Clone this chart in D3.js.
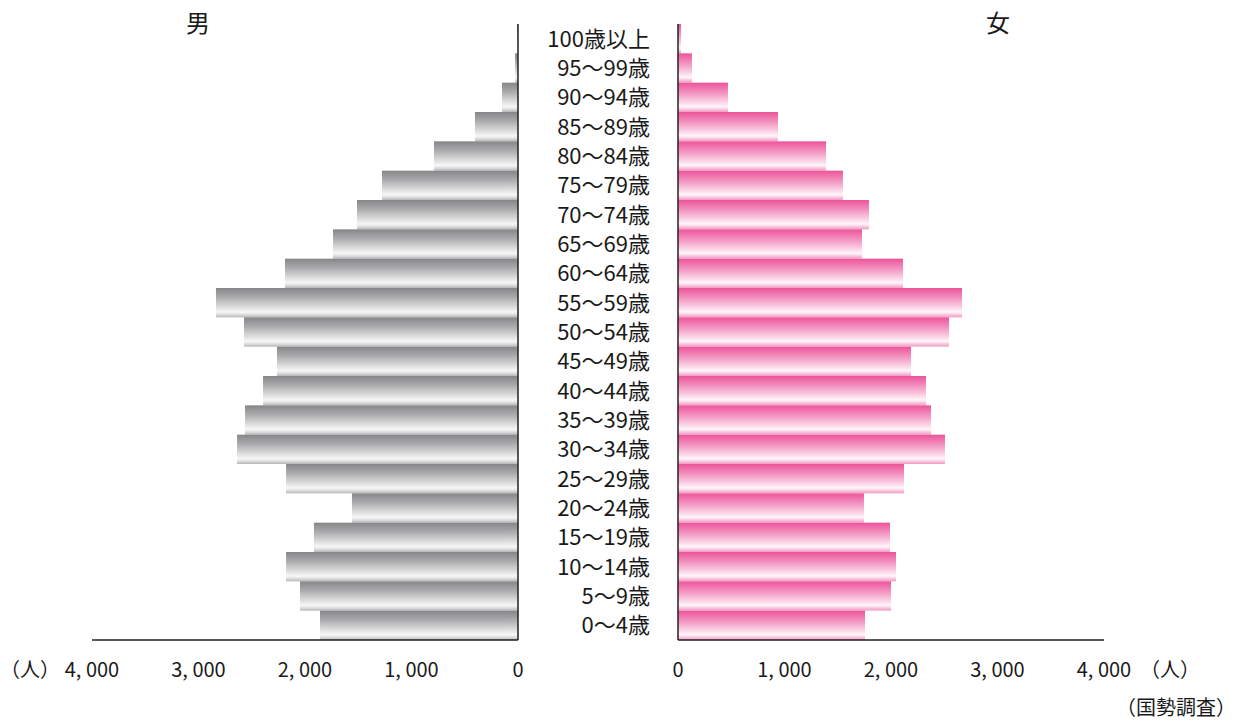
<!DOCTYPE html>
<html lang="ja">
<head>
    <meta charset="UTF-8">
    <title>人口ピラミッド</title>
    <style>
        body { margin: 0; background: #fff; }
        svg { display: block; }
        text { font-family: "Noto Sans CJK JP", "Noto Sans", sans-serif; fill: #1a1a1a; }
    </style>
</head>
<body>
    <svg id="chart" width="1244" height="722"></svg>
    <script src="https://d3js.org/d3.v7.min.js"></script>
    <script>
        // age groups, top to bottom
        const ageGroups = ["100歳以上", "95～99歳", "90～94歳", "85～89歳", "80～84歳", "75～79歳",
            "70～74歳", "65～69歳", "60～64歳", "55～59歳", "50～54歳", "45～49歳", "40～44歳",
            "35～39歳", "30～34歳", "25～29歳", "20～24歳", "15～19歳", "10～14歳", "5～9歳", "0～4歳"];
        const male = [8, 28, 150, 404, 789, 1277, 1512, 1737, 2188, 2836, 2573, 2263, 2394,
            2563, 2638, 2178, 1559, 1916, 2178, 2047, 1859];
        const female = [28, 131, 469, 939, 1390, 1549, 1793, 1728, 2113, 2667, 2545, 2188, 2329,
            2376, 2507, 2122, 1746, 1991, 2047, 2000, 1756];
        const ticks = [0, 1000, 2000, 3000, 4000];

        const svg = d3.select("#chart");
        const plotTop = 24, plotBottom = 640;

        const y = d3.scaleBand().domain(ageGroups).range([plotTop, plotBottom]).padding(0);
        const xL = d3.scaleLinear().domain([0, 4000]).range([518, 92]);
        const xR = d3.scaleLinear().domain([0, 4000]).range([678, 1104]);

        // gradients
        const defs = svg.append("defs");
        function grad(id, stops) {
            const g = defs.append("linearGradient").attr("id", id)
                .attr("x1", 0).attr("y1", 0).attr("x2", 0).attr("y2", 1);
            stops.forEach(s => g.append("stop").attr("offset", s[0]).attr("stop-color", s[1]));
        }
        grad("gGray", [[0, "#868689"], [0.3, "#a9a9ab"], [0.6, "#d6d6d7"], [0.82, "#f7f7f7"], [0.92, "#d9d9da"], [1, "#b4b4b6"]]);
        grad("gPink", [[0, "#ec5599"], [0.3, "#f28abb"], [0.6, "#f9c6de"], [0.82, "#fff6fa"], [0.92, "#f8c0da"], [1, "#f39cc5"]]);

        svg.selectAll(".m")
            .data(male)
            .enter()
            .append("rect")
            .attr("class", "m")
            .attr("x", d => xL(d))
            .attr("y", (d, i) => y(ageGroups[i]))
            .attr("width", d => xL(0) - xL(d))
            .attr("height", y.bandwidth())
            .attr("fill", "url(#gGray)");

        svg.selectAll(".f")
            .data(female)
            .enter()
            .append("rect")
            .attr("class", "f")
            .attr("x", xR(0))
            .attr("y", (d, i) => y(ageGroups[i]))
            .attr("width", d => xR(d) - xR(0))
            .attr("height", y.bandwidth())
            .attr("fill", "url(#gPink)");

        // axis lines
        svg.append("line").attr("x1", 92).attr("x2", 518).attr("y1", plotBottom).attr("y2", plotBottom)
            .attr("stroke", "#222").attr("stroke-width", 1.5);
        svg.append("line").attr("x1", 678).attr("x2", 1104).attr("y1", plotBottom).attr("y2", plotBottom)
            .attr("stroke", "#222").attr("stroke-width", 1.5);
        svg.append("line").attr("x1", 518).attr("x2", 518).attr("y1", plotTop).attr("y2", plotBottom)
            .attr("stroke", "#222").attr("stroke-width", 1.5);
        svg.append("line").attr("x1", 678).attr("x2", 678).attr("y1", plotTop).attr("y2", plotBottom)
            .attr("stroke", "#222").attr("stroke-width", 1.5);

        // tick labels
        const fmt = d => d3.format(",")(d).replace(",", ", ");
        svg.selectAll(".tl").data(ticks).enter().append("text")
            .attr("x", d => xL(d)).attr("y", 677)
            .attr("text-anchor", "middle").attr("font-size", 20)
            .text(fmt);
        svg.selectAll(".tr").data(ticks).enter().append("text")
            .attr("x", d => xR(d)).attr("y", 677)
            .attr("text-anchor", "middle").attr("font-size", 20)
            .text(fmt);

        // age labels
        svg.selectAll(".age").data(ageGroups).enter().append("text")
            .attr("x", 650).attr("y", d => y(d) + y.bandwidth() / 2 + 8)
            .attr("text-anchor", "end").attr("font-size", 22)
            .text(d => d);

        svg.append("text").attr("x", 30).attr("y", 677).attr("text-anchor", "middle")
            .attr("font-size", 20).text("（人）");
        svg.append("text").attr("x", 1170).attr("y", 677).attr("text-anchor", "middle")
            .attr("font-size", 20).text("（人）");
        svg.append("text").attr("x", 1236).attr("y", 715).attr("text-anchor", "end")
            .attr("font-size", 20).text("（国勢調査）");
        svg.append("text").attr("x", 198).attr("y", 32).attr("text-anchor", "middle")
            .attr("font-size", 24).text("男");
        svg.append("text").attr("x", 998).attr("y", 32).attr("text-anchor", "middle")
            .attr("font-size", 24).text("女");
    </script>
</body>
</html>
